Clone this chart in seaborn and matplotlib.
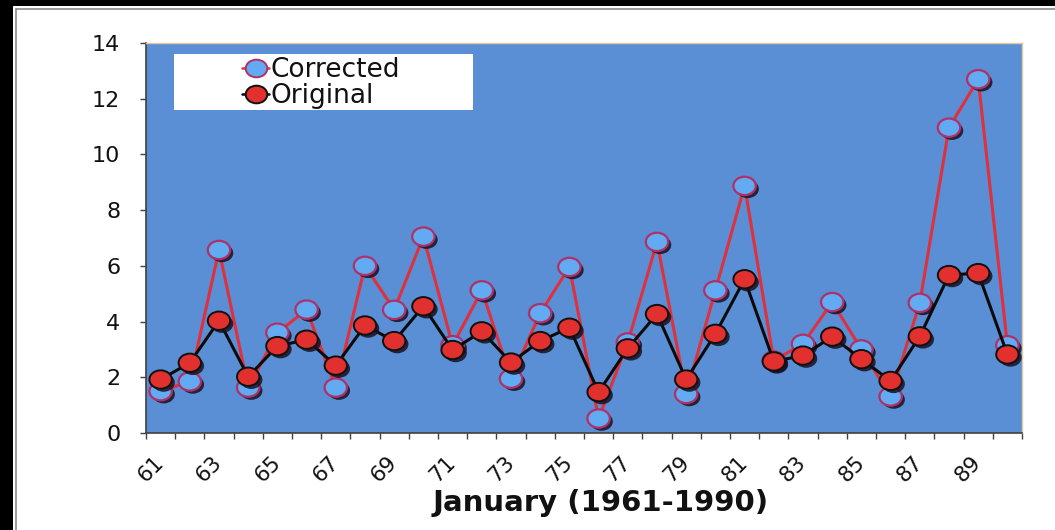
import numpy as np
import pandas as pd
import matplotlib
matplotlib.use("Agg")
import matplotlib.pyplot as plt
import matplotlib.patheffects as pe
from matplotlib.path import Path
from matplotlib.transforms import Affine2D
from matplotlib.lines import Line2D
from matplotlib.patches import Rectangle
import seaborn as sns

# ---------------- data ----------------
years = [61, 62, 63, 64, 65, 66, 67, 68, 69, 70, 71, 72, 73, 74, 75,
         76, 77, 78, 79, 80, 81, 82, 83, 84, 85, 86, 87, 88, 89, 90]
corrected = [1.5, 1.85, 6.57, 1.63, 3.6, 4.43, 1.63, 6.0, 4.42, 7.05,
             3.15, 5.12, 1.95, 4.3, 5.96, 0.52, 3.25, 6.86, 1.4, 5.12,
             8.87, 2.6, 3.2, 4.7, 3.0, 1.31, 4.67, 10.96, 12.7, 3.15]
original = [1.92, 2.52, 4.03, 2.02, 3.12, 3.35, 2.42, 3.86, 3.3, 4.55,
            2.98, 3.65, 2.53, 3.3, 3.78, 1.47, 3.04, 4.27, 1.92, 3.56,
            5.52, 2.57, 2.78, 3.46, 2.65, 1.87, 3.47, 5.67, 5.74, 2.82]
tick_years = [61, 63, 65, 67, 69, 71, 73, 75, 77, 79, 81, 83, 85, 87, 89]
tick_labels = ["61", "63", "65", "67", "69", "71", "73", "75", "77", "79",
               "81", "83", "85", "87", "89"]
series_names = ["Corrected", "Original"]
x_title = "January (1961-1990)"

df = pd.DataFrame({"year": years, "Corrected": corrected, "Original": original})

# ---------------- style ----------------
sns.set_theme(style="white")
plt.rcParams["font.family"] = ["DejaVu Sans"]

W, H = 1055, 530
fig = plt.figure(figsize=(W / 100, H / 100), dpi=100)
fig.patch.set_facecolor("white")

# axes placement (pixels)
L, R, T, B = 146, 1022, 43, 433
ax = fig.add_axes([L / W, 1 - B / H, (R - L) / W, (B - T) / H])
ax.set_facecolor("#5A8FD5")

# outer black border (top and left) plus thin gray inner lines
fig.add_artist(Rectangle((0, 0), 13 / W, 1, transform=fig.transFigure,
                         facecolor="black", edgecolor="none", zorder=-5))
fig.add_artist(Rectangle((0, 1 - 6 / H), 1, 6 / H, transform=fig.transFigure,
                         facecolor="black", edgecolor="none", zorder=-5))
fig.add_artist(Line2D([16 / W, 16 / W], [0, 1 - 9 / H], transform=fig.transFigure,
                      color="#8a8a8a", lw=1.2, zorder=-4))
fig.add_artist(Line2D([16 / W, 1], [1 - 9 / H, 1 - 9 / H], transform=fig.transFigure,
                      color="#8a8a8a", lw=1.2, zorder=-4))

# elliptical marker (chart is horizontally stretched)
ellipse = Path(Affine2D().scale(1.0, 0.82).transform(Path.unit_circle().vertices),
               Path.unit_circle().codes)

shadow = [pe.SimplePatchShadow(offset=(2.2, -2.2), shadow_rgbFace="#1a1020", alpha=0.85),
          pe.Normal()]

corr_line, corr_fill, corr_edge = "#E0303C", "#62AAF2", "#B03068"
orig_line, orig_fill, orig_edge = "#0a0a0a", "#E2302E", "#111111"

# Corrected series
sns.lineplot(data=df, x="year", y="Corrected", ax=ax, color=corr_line, lw=2.2,
             zorder=3, legend=False)
sns.scatterplot(data=df, x="year", y="Corrected", ax=ax, marker=ellipse, s=260,
                color=corr_fill, edgecolor=corr_edge, linewidth=1.6, zorder=4,
                legend=False, path_effects=shadow)
# Original series
sns.lineplot(data=df, x="year", y="Original", ax=ax, color=orig_line, lw=2.2,
             zorder=5, legend=False)
sns.scatterplot(data=df, x="year", y="Original", ax=ax, marker=ellipse, s=260,
                color=orig_fill, edgecolor=orig_edge, linewidth=1.4, zorder=6,
                legend=False, path_effects=shadow)

# axes limits / ticks
ax.set_xlim(60.5, 90.5)
ax.set_ylim(0, 14)
ax.set_yticks(np.arange(0, 15, 2))
ax.set_yticklabels([str(v) for v in range(0, 15, 2)])
ax.set_xticks(tick_years)
ax.set_xticklabels(tick_labels)
ax.set_xticks(np.arange(60.5, 91, 1), minor=True)

ax.tick_params(axis="y", which="major", direction="out", length=4.5, width=1,
               color="#404040", pad=14, labelsize=16, labelcolor="#111111", left=True)
ax.tick_params(axis="x", which="major", length=0, pad=19, labelsize=15.5,
               labelcolor="#111111", bottom=True)
ax.tick_params(axis="x", which="minor", direction="out", length=4.5, width=1,
               color="#404040", bottom=True)
for lab in ax.get_xticklabels():
    lab.set_rotation(45)
    lab.set_ha("right")
    lab.set_va("center")
    lab.set_rotation_mode("anchor")

for side in ["left", "bottom"]:
    ax.spines[side].set_color("#404040")
    ax.spines[side].set_linewidth(1.2)
for side in ["top", "right"]:
    ax.spines[side].set_color("#E6C8A0")
    ax.spines[side].set_linewidth(1.0)

ax.set_ylabel("")
ax.set_xlabel(x_title, fontsize=21, fontweight="bold", color="#111111", va="center")
ax.xaxis.set_label_coords(0.519, -0.18)

# legend (white box + frameless legend)
ax.add_patch(Rectangle((0.032, 0.828), 0.341, 0.144, transform=ax.transAxes,
                       facecolor="white", edgecolor="none", zorder=8))
handles = [
    Line2D([], [], color=corr_line, lw=1.8, marker=ellipse, markersize=15.5,
           markerfacecolor=corr_fill, markeredgecolor=corr_edge, markeredgewidth=1.4),
    Line2D([], [], color=orig_line, lw=1.8, marker=ellipse, markersize=15.5,
           markerfacecolor=orig_fill, markeredgecolor=orig_edge, markeredgewidth=1.4),
]
leg = ax.legend(handles, series_names, loc="center", bbox_to_anchor=(0.2003, 0.898),
                frameon=False, fontsize=19, handlelength=1.0, handletextpad=0.08,
                labelspacing=0.0, borderpad=0.0, borderaxespad=0.0)
leg.set_zorder(9)
for t in leg.get_texts():
    t.set_color("#111111")

fig.savefig("out.png", dpi=100, facecolor="white")
